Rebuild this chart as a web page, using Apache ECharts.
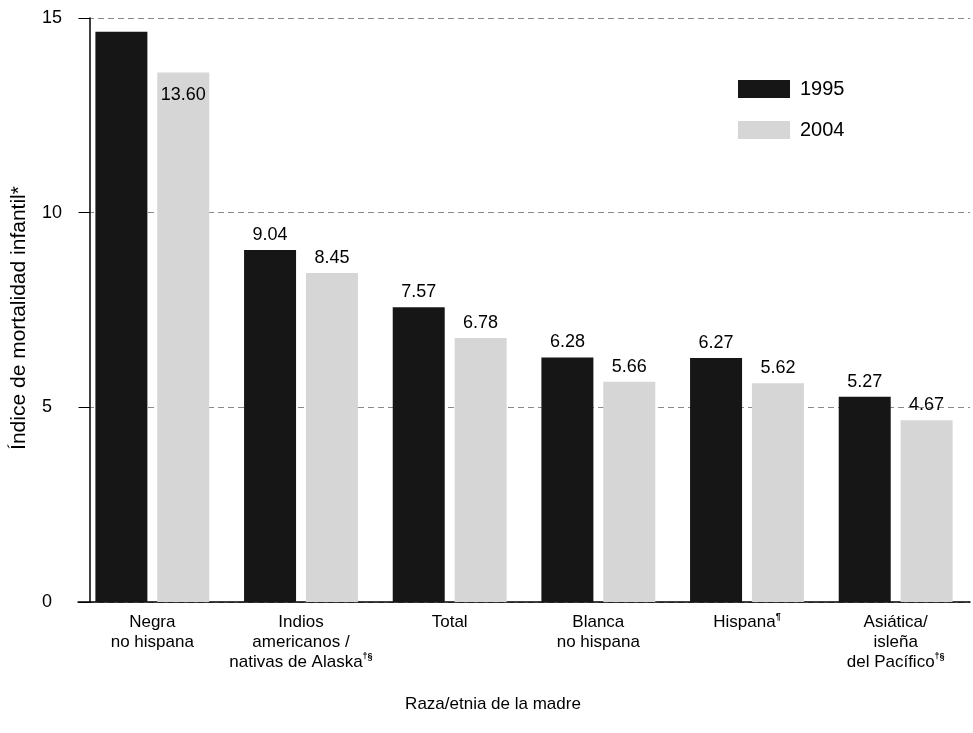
<!DOCTYPE html>
<html>
<head>
<meta charset="utf-8">
<script src="https://cdn.jsdelivr.net/npm/echarts@6/dist/echarts.min.js"></script>
<style>
html,body{margin:0;padding:0;background:#fff;}
#c{width:973px;height:733px;}
</style>
</head>
<body>
<div id="c"></div>
<script>
const categories = [
  'Negra\nno hispana',
  'Indios\namericanos /\nnativas de Alaska{sup|†§}',
  'Total',
  'Blanca\nno hispana',
  'Hispana{sup|¶}',
  'Asiática/\nisleña\ndel Pacífico{sup|†§}'
];
const series1995 = [14.65, 9.04, 7.57, 6.28, 6.27, 5.27];
const series2004 = [13.60, 8.45, 6.78, 5.66, 5.62, 4.67];
const seriesNames = ['1995', '2004'];
const yTicks = [0, 5, 10, 15];

const FONT = '"Liberation Sans", Arial, Helvetica, sans-serif';
const chart = echarts.init(document.getElementById('c'), null, {renderer: 'canvas'});

const labelBase = {
  show: true, position: 'top', distance: 6,
  color: '#000', fontFamily: FONT, fontSize: 18,
  formatter: p => p.value.toFixed(2)
};

const data1995 = series1995.map((v, i) => i === 0
  ? {value: v, label: {show: false}}
  : {value: v});
const data2004 = series2004.map((v, i) => i === 0
  ? {value: v, label: {position: 'insideTop', distance: 14}}
  : {value: v});

chart.setOption({
  animation: false,
  backgroundColor: '#fff',
  textStyle: {fontFamily: FONT},
  grid: {left: 78, right: 3, top: 18, bottom: 131},
  legend: {
    orient: 'vertical', left: 738, top: 79, padding: 0, itemWidth: 52, itemHeight: 18,
    itemGap: 21, icon: 'rect',
    textStyle: {fontFamily: FONT, fontSize: 20, color: '#000', padding: [0, 0, 0, 5]},
    data: seriesNames
  },
  xAxis: {
    type: 'category', data: categories,
    axisLine: {lineStyle: {color: '#000', width: 1.5}},
    axisTick: {show: false},
    axisLabel: {
      color: '#000', fontFamily: FONT, fontSize: 17, lineHeight: 20, margin: 10,
      interval: 0,
      rich: {sup: {fontSize: 9, verticalAlign: 'top', lineHeight: 20, padding: [0, 0, 8, 0], fontWeight: 'bold'}}
    },
    name: 'Raza/etnia de la madre', nameLocation: 'middle', nameGap: 94,
    nameTextStyle: {color: '#000', fontFamily: FONT, fontSize: 17, padding: [0, 62, 0, 0]}
  },
  yAxis: {
    type: 'value', min: 0, max: 15, interval: 5, offset: -12,
    axisLine: {show: true, lineStyle: {color: '#000', width: 1.5}},
    axisTick: {show: true, length: 11, lineStyle: {color: '#000'}},
    axisLabel: {color: '#000', fontFamily: FONT, fontSize: 18, align: 'left', margin: 48},
    splitLine: {show: true, lineStyle: {color: '#8a8a8a', width: 1, type: [6, 4]}},
    name: 'Índice de mortalidad infantil*', nameLocation: 'middle', nameGap: 60,
    nameTextStyle: {color: '#000', fontFamily: FONT, fontSize: 21, padding: [0, 16, 0, 0]}
  },
  series: [
    {
      name: seriesNames[0], type: 'bar', data: data1995,
      barWidth: 52, barGap: '19%',
      itemStyle: {color: '#161616'},
      label: labelBase
    },
    {
      name: seriesNames[1], type: 'bar', data: data2004,
      barWidth: 52, barGap: '19%',
      itemStyle: {color: '#d6d6d6'},
      label: labelBase
    }
  ]
});
</script>
</body>
</html>
